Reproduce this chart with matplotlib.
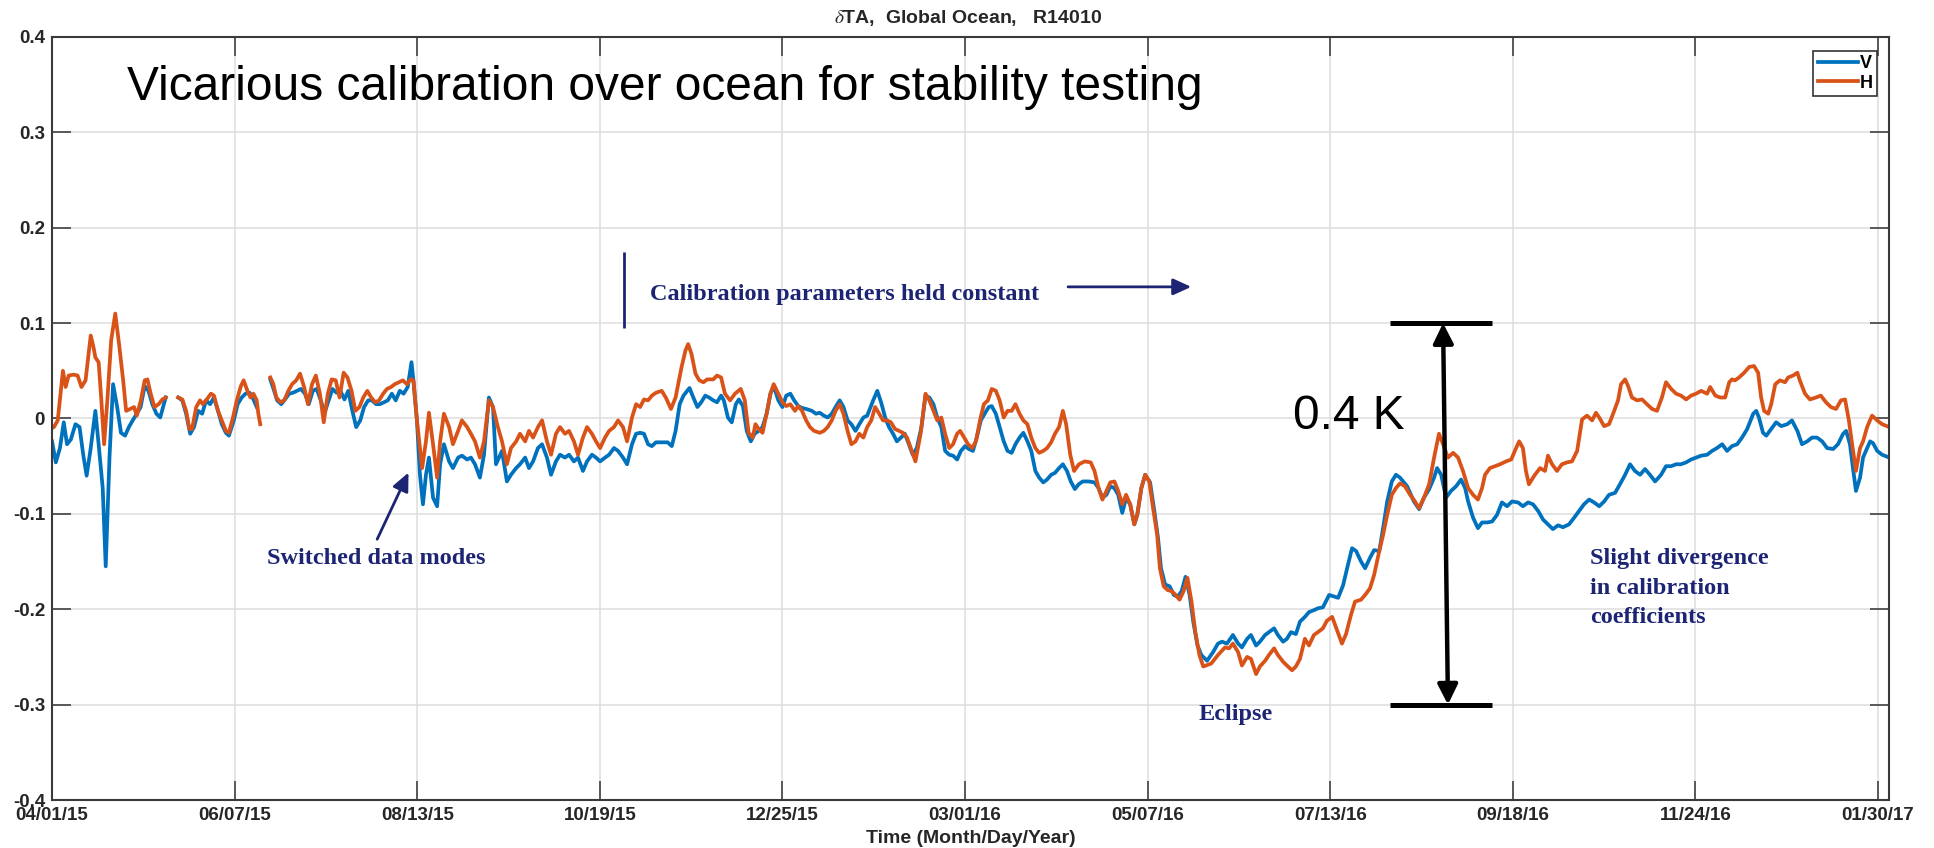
import numpy as np
import matplotlib.pyplot as plt
import matplotlib.dates as mdates
from datetime import datetime

plt.rcParams['font.family'] = ['Liberation Sans', 'DejaVu Sans']
plt.rcParams['mathtext.fontset'] = 'stix'

START = datetime(2015, 4, 1)
TICK_STEP = 67      # days between date ticks
N_TICKS = 11
X_END = 674         # last day shown after START

# days since 04/01/15 and delta TA (K); nan marks a data gap
v_days = [
    0.0, 1.4, 2.9, 4.3, 5.5, 6.9, 8.6, 10.1, 11.5, 12.7,
    14.2, 15.9, 17.1, 18.6, 19.7, 21.1, 22.4, 23.9, 25.3, 26.8,
    28.2, 29.6, 31.1, 32.5, 34.0, 35.4, 36.8, 38.3, 39.7, 41.7,
    44.0,
    46.3, 47.8, 49.2, 50.7, 52.1, 53.6, 55.1, 56.5, 58.0, 59.4,
    60.9, 62.3, 63.8, 64.9, 66.7, 68.1, 69.6, 71.0, 72.5, 73.9, 75.1,
    78.0,
    80.1, 81.5, 82.6, 84.1, 85.5, 87.0, 88.4, 89.9, 91.3, 92.8,
    94.2, 95.7, 97.1, 98.6, 100.0, 101.5, 102.9, 104.4, 105.8, 107.3,
    108.7, 110.2, 111.6, 113.1, 114.5, 116.0, 117.4, 118.9, 120.3, 121.8,
    123.2, 124.7, 126.1, 127.6, 129.0, 130.5, 131.9, 132.6,
    133.9, 135.0, 136.1, 137.2, 138.3, 139.8, 141.3, 142.4, 143.8, 145.7,
    147.1, 149.0, 150.4, 152.3, 153.7, 155.2, 157.0, 158.5, 160.3, 161.8,
    162.9, 165.1, 166.9, 168.4, 170.3, 171.7, 173.6, 175.0, 176.5, 178.3,
    179.8, 181.6, 183.1, 184.9, 186.4, 188.2, 189.7, 191.5, 193.0, 194.8,
    196.3, 198.1, 199.6, 201.1, 202.9, 204.4, 206.2, 207.7, 209.5, 211.0,
    212.8, 214.3,
    215.8, 217.2, 218.7, 220.1, 221.6, 223.7, 225.9, 227.4, 228.8, 230.3,
    231.7, 233.9, 235.3, 236.8, 238.2, 239.7, 241.1, 242.6, 244.0, 245.5,
    246.5, 248.0, 249.4, 250.9, 252.0, 253.5, 254.9, 256.4, 257.8, 259.3,
    260.7, 262.2, 263.6, 264.8, 266.5, 268.0, 269.4, 270.9, 272.3, 273.8,
    275.2, 276.7, 278.8, 280.3, 281.7, 283.2, 284.6, 286.1, 287.5, 289.0,
    290.4, 291.9, 293.3, 294.8, 296.2, 297.7, 299.1, 301.3, 302.8, 304.2,
    305.7, 307.1, 308.6, 310.0, 311.5, 312.9, 314.4, 315.8, 317.3, 319.0,
    320.5, 321.9, 323.4, 324.8, 326.3, 327.7, 329.2, 330.6, 332.1, 333.5,
    335.0, 336.4, 337.9, 339.3, 340.8, 342.2, 343.7, 344.8, 346.3, 347.7,
    349.2, 350.6, 352.1, 353.5, 355.0, 356.4, 357.9, 359.3, 360.8, 362.2,
    363.7, 365.1, 366.6, 368.0, 369.5, 370.9, 372.4, 373.8, 375.3, 376.7,
    378.2, 380.4, 382.5, 384.0, 385.4, 386.9, 388.3, 389.8, 391.2, 392.7,
    394.1, 395.6, 397.1, 398.2, 399.7, 401.1, 402.9, 404.3, 405.8, 406.9,
    408.4, 410.1, 411.6, 413.0, 414.5, 415.9, 417.4, 418.8, 420.3, 421.7,
    423.8, 426.0, 427.8, 429.3, 431.1, 433.3, 435.2, 436.6, 438.5, 439.9,
    441.8, 443.2, 445.1, 446.5, 448.4, 449.8, 451.7, 453.1, 454.6, 456.4,
    457.9, 459.7, 461.2, 463.0, 464.5, 466.3, 468.6, 471.9, 473.7, 475.2,
    477.0, 478.5, 480.3, 481.8, 483.6, 485.1, 487.0, 488.4, 489.9, 491.6,
    493.1, 494.6,
    497.2, 499.7, 501.6, 503.4, 505.3, 507.1, 508.2, 509.7, 511.5, 513.3,
    515.2, 517.0, 518.5, 519.6, 521.4, 523.2, 524.7, 526.6, 528.4, 530.2,
    532.0, 533.9, 535.7, 537.9, 539.7, 541.6, 543.4, 545.3, 547.1, 548.9,
    550.7, 552.6, 554.4, 556.6, 558.5, 560.3, 562.1, 564.0, 565.8, 567.7,
    569.5, 571.3, 573.5, 575.3, 577.2, 579.0, 580.8, 582.7, 584.5, 586.3,
    588.2, 590.4, 592.2, 594.1, 595.9, 597.7, 599.6, 601.4, 603.2, 605.1,
    607.3, 609.1, 610.9, 612.8, 614.6, 616.4, 618.3, 620.1, 622.0, 624.2,
    625.3, 626.3, 627.8, 629.0, 630.8, 632.6, 634.5, 636.7, 638.4, 640.4,
    642.1, 644.0, 645.8, 647.6, 649.5, 651.3, 653.5, 655.3, 657.2, 658.3,
    659.7, 660.8, 661.9, 663.4, 664.5, 666.0, 667.1, 668.2, 669.7, 671.5,
    674.1,
]
v_vals = [
    -0.024, -0.046, -0.031, -0.004, -0.027, -0.022, -0.006, -0.009, -0.039, -0.060,
    -0.031, 0.008, -0.027, -0.073, -0.155, -0.040, 0.036, 0.012, -0.015, -0.018,
    -0.009, -0.002, 0.005, 0.012, 0.034, 0.029, 0.015, 0.005, 0.001, 0.022,
    np.nan,
    0.022, 0.019, 0.005, -0.016, -0.009, 0.008, 0.005, 0.019, 0.015, 0.022,
    0.008, -0.006, -0.015, -0.018, -0.002, 0.015, 0.022, 0.026, 0.027, 0.020, 0.012,
    np.nan,
    0.041, 0.029, 0.019, 0.015, 0.020, 0.026, 0.027, 0.029, 0.031, 0.026,
    0.015, 0.029, 0.031, 0.019, 0.006, 0.019, 0.031, 0.027, 0.029, 0.020,
    0.029, 0.008, -0.009, -0.002, 0.012, 0.019, 0.019, 0.015, 0.015, 0.017,
    0.019, 0.026, 0.019, 0.029, 0.026, 0.033, 0.059, 0.040,
    -0.002, -0.059, -0.090, -0.059, -0.041, -0.083, -0.092, -0.048, -0.027, -0.045,
    -0.052, -0.041, -0.039, -0.043, -0.041, -0.048, -0.062, -0.038, 0.022, 0.012,
    -0.048, -0.034, -0.066, -0.059, -0.052, -0.048, -0.041, -0.052, -0.045, -0.031,
    -0.027, -0.041, -0.059, -0.045, -0.038, -0.041, -0.038, -0.045, -0.041, -0.055,
    -0.045, -0.038, -0.041, -0.045, -0.041, -0.038, -0.031, -0.034, -0.041, -0.048,
    -0.027, -0.016,
    -0.015, -0.016, -0.027, -0.029, -0.025, -0.025, -0.025, -0.029, -0.013, 0.015,
    0.024, 0.032, 0.022, 0.012, 0.017, 0.024, 0.022, 0.019, 0.017, 0.024,
    0.019, 0.001, -0.004, 0.015, 0.020, 0.013, -0.013, -0.024, -0.016, -0.013,
    -0.009, 0.005, 0.026, 0.034, 0.019, 0.012, 0.024, 0.026, 0.019, 0.013,
    0.011, 0.010, 0.008, 0.005, 0.006, 0.003, 0.001, 0.005, 0.012, 0.019,
    0.012, -0.002, -0.006, -0.013, -0.006, 0.001, 0.003, 0.019, 0.029, 0.017,
    0.001, -0.009, -0.016, -0.024, -0.020, -0.016, -0.027, -0.038, -0.031, -0.009,
    0.024, 0.022, 0.015, 0.001, -0.009, -0.034, -0.038, -0.039, -0.043, -0.034,
    -0.029, -0.032, -0.034, -0.020, -0.002, 0.005, 0.012, 0.013, 0.005, -0.009,
    -0.024, -0.034, -0.036, -0.027, -0.020, -0.015, -0.024, -0.034, -0.055, -0.062,
    -0.067, -0.064, -0.059, -0.057, -0.052, -0.048, -0.055, -0.066, -0.074, -0.069,
    -0.066, -0.066, -0.067, -0.073, -0.083, -0.080, -0.071, -0.073, -0.080, -0.099,
    -0.083, -0.090, -0.111, -0.101, -0.073, -0.059, -0.067, -0.094, -0.125, -0.157,
    -0.174, -0.176, -0.185, -0.187, -0.181, -0.166, -0.185, -0.214, -0.238, -0.248,
    -0.254, -0.245, -0.236, -0.234, -0.236, -0.227, -0.236, -0.240, -0.231, -0.227,
    -0.238, -0.234, -0.227, -0.224, -0.220, -0.227, -0.234, -0.231, -0.224, -0.226,
    -0.213, -0.208, -0.203, -0.201, -0.199, -0.198, -0.185, -0.188, -0.175, -0.157,
    -0.136, -0.139, -0.150, -0.157, -0.146, -0.138, -0.139, -0.115, -0.087, -0.066,
    -0.059, -0.062,
    -0.071, -0.087, -0.095, -0.083, -0.074, -0.062, -0.052, -0.059, -0.083, -0.076,
    -0.071, -0.064, -0.073, -0.087, -0.104, -0.115, -0.109, -0.109, -0.108, -0.101,
    -0.088, -0.092, -0.087, -0.088, -0.092, -0.088, -0.090, -0.097, -0.106, -0.111,
    -0.116, -0.112, -0.114, -0.111, -0.104, -0.097, -0.090, -0.085, -0.088, -0.092,
    -0.087, -0.080, -0.078, -0.069, -0.059, -0.048, -0.055, -0.059, -0.053, -0.059,
    -0.066, -0.059, -0.050, -0.050, -0.048, -0.048, -0.046, -0.043, -0.041, -0.039,
    -0.038, -0.034, -0.031, -0.027, -0.034, -0.029, -0.027, -0.020, -0.011, 0.005,
    0.008, 0.001, -0.015, -0.018, -0.011, -0.004, -0.008, -0.006, -0.002, -0.013,
    -0.027, -0.024, -0.020, -0.020, -0.024, -0.031, -0.032, -0.027, -0.016, -0.013,
    -0.027, -0.052, -0.076, -0.062, -0.041, -0.031, -0.024, -0.026, -0.034, -0.038,
    -0.041,
]

h_days = [
    0.0, 0.7, 2.1, 4.0, 5.0, 6.1, 7.9, 9.4, 10.8, 12.3,
    14.2, 15.2, 15.9, 17.1, 18.1, 19.1, 20.3, 21.7, 23.2, 24.6,
    26.1, 27.2, 28.7, 30.1, 31.1, 32.6, 34.0, 35.0, 36.2, 37.6,
    39.1, 40.5, 41.7,
    44.0,
    46.3, 47.8, 49.2, 50.4, 51.4, 52.9, 54.3, 55.3, 56.8, 58.3,
    59.4, 60.9, 62.3, 63.8, 64.9, 66.4, 67.8, 69.3, 70.3, 71.7,
    72.8, 73.9, 75.1, 75.7, 76.4,
    78.0,
    80.1, 81.2, 82.3, 83.8, 85.2, 86.7, 88.1, 89.6, 91.0, 92.5,
    93.9, 95.4, 96.8, 98.3, 99.7, 101.2, 102.6, 104.1, 105.5, 107.0,
    108.4, 109.9, 111.3, 112.8, 114.2, 115.7, 117.1, 118.6, 120.0, 121.5,
    122.9, 124.4, 125.8, 127.3, 128.7, 130.2, 131.6, 132.6,
    133.9, 135.8, 137.2, 138.3, 139.8, 141.3, 142.4, 143.8, 145.7, 147.1,
    149.0, 150.4, 152.3, 153.7, 155.2, 157.0, 158.5, 160.3, 161.8, 163.6,
    165.1, 166.9, 168.4, 170.3, 171.7, 173.6, 175.0, 176.5, 178.3, 179.8,
    181.6, 183.1, 184.9, 186.4, 188.2, 189.7, 191.5, 193.0, 194.8, 196.3,
    198.1, 199.6, 201.1, 202.9, 204.4, 206.2, 207.7, 209.5, 211.0, 212.8,
    214.3,
    215.8, 217.2, 218.7, 220.1, 221.6, 223.7, 225.2, 227.1, 228.8, 231.0,
    232.4, 233.4, 234.6, 236.1, 237.5, 239.0, 240.4, 242.6, 244.0, 245.5,
    246.9, 248.8, 250.6, 252.7, 254.2, 255.6, 257.1, 258.1, 259.3, 260.7,
    262.2, 263.6, 264.8, 266.5, 268.0, 269.4, 270.9, 272.6, 273.8, 275.2,
    276.7, 278.1, 279.6, 281.7, 283.2, 284.6, 286.1, 287.5, 289.0, 290.4,
    291.9, 293.3, 294.8, 296.2, 297.7, 299.1, 300.6, 302.0, 303.5, 304.9,
    306.4, 307.8, 309.3, 310.8, 312.2, 313.7, 315.1, 316.8, 318.7, 320.5,
    321.9, 323.4, 324.8, 326.3, 327.7, 329.2, 330.6, 332.1, 333.2, 334.7,
    336.1, 337.6, 339.0, 340.5, 341.9, 343.4, 344.8, 346.3, 347.7, 349.2,
    350.6, 352.1, 353.5, 355.0, 356.4, 357.9, 359.3, 360.8, 362.2, 363.7,
    365.1, 366.6, 368.0, 369.5, 370.9, 372.1, 373.6, 375.0, 376.8, 378.9,
    381.1, 382.5, 384.0, 385.4, 386.9, 388.3, 389.8, 391.2, 392.7, 394.1,
    395.6, 397.1, 398.2, 399.7, 401.1, 402.6, 404.0, 405.5, 406.5, 407.9,
    409.4, 410.8, 412.3, 413.7, 415.2, 416.6, 418.1, 419.5, 421.0, 422.4,
    425.3, 427.8, 430.4, 431.9, 433.3, 435.2, 436.6, 438.5, 439.9, 441.8,
    443.2, 445.1, 446.5, 448.4, 449.8, 451.7, 453.1, 455.0, 456.4, 457.9,
    459.7, 461.2, 463.0, 464.5, 466.3, 467.8, 469.7, 471.1, 473.3, 474.8,
    476.6, 478.1, 480.3, 481.8, 483.6, 485.1, 487.0, 488.4, 489.9, 491.6,
    493.1, 494.6,
    496.4, 498.3, 500.1, 501.6, 503.4, 505.3, 507.1, 508.9, 510.4, 512.2,
    514.1, 515.9, 517.7, 519.6, 521.4, 523.2, 524.7, 525.8, 527.6, 529.5,
    531.3, 533.5, 535.4, 537.2, 538.3, 539.7, 540.8, 541.9, 544.1, 546.0,
    547.8, 548.9, 550.4, 552.2, 554.0, 555.9, 557.7, 559.6, 561.4, 563.2,
    565.1, 566.5, 567.7, 569.5, 571.3, 572.8, 574.6, 575.7, 577.2, 578.3,
    579.7, 581.6, 583.4, 585.2, 587.1, 588.9, 590.7, 592.2, 594.1, 595.9,
    597.7, 599.6, 601.4, 603.2, 605.1, 607.3, 608.4, 610.3, 612.1, 613.9,
    615.4, 616.4, 617.5, 619.0, 620.9, 622.7, 624.5, 626.0, 627.1, 628.2,
    629.7, 630.8, 632.3, 634.0, 635.9, 637.0, 638.8, 640.4, 641.3, 643.2,
    645.0, 647.2, 649.0, 650.9, 652.7, 654.6, 656.4, 657.9, 659.3, 660.5,
    661.9, 663.4, 664.5, 666.0, 667.8, 669.7, 671.5, 674.1,
]
h_vals = [
    -0.010, -0.009, -0.002, 0.050, 0.033, 0.045, 0.046, 0.045, 0.033, 0.040,
    0.087, 0.075, 0.064, 0.059, 0.019, -0.027, 0.019, 0.082, 0.110, 0.078,
    0.040, 0.008, 0.010, 0.012, 0.003, 0.019, 0.040, 0.041, 0.026, 0.012,
    0.015, 0.020, 0.022,
    np.nan,
    0.022, 0.020, 0.008, -0.011, -0.011, 0.012, 0.019, 0.015, 0.020, 0.026,
    0.024, 0.008, -0.002, -0.013, -0.015, 0.001, 0.019, 0.034, 0.040, 0.029,
    0.022, 0.026, 0.019, 0.005, -0.006,
    np.nan,
    0.043, 0.036, 0.022, 0.017, 0.019, 0.029, 0.036, 0.040, 0.047, 0.033,
    0.015, 0.036, 0.045, 0.026, -0.004, 0.026, 0.041, 0.040, 0.022, 0.048,
    0.043, 0.029, 0.008, 0.012, 0.022, 0.029, 0.022, 0.017, 0.019, 0.026,
    0.031, 0.033, 0.036, 0.038, 0.040, 0.036, 0.041, 0.040,
    -0.002, -0.052, -0.024, 0.006, -0.027, -0.062, -0.024, 0.005, -0.009, -0.027,
    -0.013, -0.002, -0.009, -0.016, -0.024, -0.041, -0.024, 0.019, 0.012, -0.009,
    -0.024, -0.048, -0.031, -0.024, -0.016, -0.024, -0.013, -0.020, -0.009, -0.002,
    -0.024, -0.038, -0.016, -0.009, -0.016, -0.013, -0.024, -0.038, -0.020, -0.009,
    -0.016, -0.024, -0.031, -0.020, -0.013, -0.009, -0.002, -0.009, -0.024, 0.001,
    0.015,
    0.012, 0.020, 0.019, 0.024, 0.027, 0.029, 0.022, 0.010, 0.022, 0.054,
    0.071, 0.078, 0.068, 0.047, 0.040, 0.038, 0.041, 0.041, 0.045, 0.043,
    0.026, 0.019, 0.026, 0.031, 0.019, -0.015, -0.020, -0.006, -0.011, -0.015,
    0.005, 0.026, 0.036, 0.026, 0.017, 0.013, 0.015, 0.008, 0.013, 0.008,
    -0.002, -0.009, -0.013, -0.015, -0.013, -0.009, -0.002, 0.008, 0.015, 0.005,
    -0.013, -0.027, -0.024, -0.016, -0.020, -0.009, -0.002, 0.012, 0.005, -0.002,
    -0.002, -0.004, -0.011, -0.013, -0.015, -0.020, -0.031, -0.045, -0.016, 0.026,
    0.019, 0.008, -0.002, 0.001, -0.016, -0.031, -0.027, -0.016, -0.013, -0.020,
    -0.027, -0.031, -0.024, -0.002, 0.015, 0.019, 0.031, 0.029, 0.019, 0.001,
    0.008, 0.008, 0.015, 0.005, -0.002, -0.006, -0.020, -0.031, -0.036, -0.034,
    -0.031, -0.025, -0.016, -0.009, 0.008, -0.006, -0.038, -0.055, -0.048, -0.045,
    -0.046, -0.055, -0.073, -0.085, -0.076, -0.067, -0.066, -0.076, -0.090, -0.080,
    -0.090, -0.111, -0.101, -0.073, -0.059, -0.066, -0.094, -0.122, -0.157, -0.176,
    -0.180, -0.181, -0.185, -0.190, -0.181, -0.167, -0.192, -0.224, -0.248, -0.260,
    -0.257, -0.248, -0.240, -0.241, -0.236, -0.245, -0.259, -0.250, -0.252, -0.268,
    -0.260, -0.254, -0.248, -0.241, -0.248, -0.255, -0.259, -0.264, -0.260, -0.252,
    -0.231, -0.238, -0.227, -0.224, -0.220, -0.212, -0.208, -0.219, -0.236, -0.226,
    -0.206, -0.192, -0.190, -0.185, -0.178, -0.164, -0.139, -0.122, -0.101, -0.080,
    -0.073, -0.068,
    -0.071, -0.080, -0.087, -0.094, -0.083, -0.069, -0.041, -0.016, -0.027, -0.041,
    -0.036, -0.041, -0.055, -0.073, -0.080, -0.085, -0.073, -0.059, -0.052, -0.050,
    -0.048, -0.045, -0.043, -0.031, -0.024, -0.031, -0.055, -0.069, -0.059, -0.052,
    -0.055, -0.039, -0.048, -0.055, -0.048, -0.046, -0.045, -0.034, -0.001, 0.003,
    -0.002, 0.006, 0.001, -0.008, -0.006, 0.005, 0.019, 0.036, 0.041, 0.034,
    0.022, 0.019, 0.020, 0.015, 0.010, 0.008, 0.022, 0.038, 0.031, 0.026,
    0.024, 0.020, 0.024, 0.026, 0.029, 0.026, 0.033, 0.024, 0.022, 0.022,
    0.038, 0.041, 0.040, 0.043, 0.048, 0.054, 0.055, 0.048, 0.022, 0.008,
    0.005, 0.015, 0.036, 0.040, 0.038, 0.043, 0.045, 0.048, 0.040, 0.026,
    0.020, 0.022, 0.024, 0.017, 0.012, 0.010, 0.019, 0.020, -0.002, -0.027,
    -0.055, -0.031, -0.024, -0.009, 0.003, -0.002, -0.006, -0.009,
]

# stability span marked on the right half
span_top = 0.1
span_bottom = -0.3

BLUE = '#0072BD'
ORANGE = '#D95319'
NAVY = '#1c2473'
INK = '#262626'


def day_num(days):
    return mdates.date2num(START) + np.asarray(days, dtype=float)


fig = plt.figure(figsize=(19.34, 8.48), dpi=100)
ax = fig.add_axes([0.0269, 0.0566, 0.9498, 0.8998])

ax.plot(day_num(v_days), v_vals, color=BLUE, lw=2.7, label='V')
ax.plot(day_num(h_days), h_vals, color=ORANGE, lw=2.7, label='H')

ax.set_xlim(day_num(0), day_num(X_END))
ax.set_ylim(-0.4, 0.4)
ax.set_xticks(day_num(np.arange(N_TICKS) * TICK_STEP))
ax.xaxis.set_major_formatter(mdates.DateFormatter('%m/%d/%y'))
ax.set_yticks(np.round(np.arange(-0.4, 0.41, 0.1), 1))
ax.yaxis.set_major_formatter(
    plt.FuncFormatter(lambda v, _: '0' if abs(v) < 1e-9 else f'{v:g}'))

ax.tick_params(direction='in', length=14, width=1.1, top=True, right=True,
               labelsize=13.5, pad=5, color='#333333', labelcolor=INK)
for lbl in ax.get_xticklabels() + ax.get_yticklabels():
    lbl.set_fontweight('bold')
ax.grid(True, color='#dedede', lw=1.1)
ax.set_axisbelow(True)
for s in ax.spines.values():
    s.set_linewidth(1.5)
    s.set_color('#3a3a3a')

leg = ax.legend(loc='upper right', bbox_to_anchor=(0.9935, 0.9817), borderaxespad=0,
                fancybox=False, edgecolor='#333333', framealpha=1,
                prop={'weight': 'bold', 'size': 13}, handlelength=2.2,
                handletextpad=0.1, borderpad=0.25, labelspacing=0.12)
leg.get_frame().set_linewidth(1.2)

fig.text(0.5005, 0.979, r'$\delta$TA,  Global Ocean,   R14010', ha='center', va='center',
         fontsize=14, fontweight='bold', color=INK)
ax.set_xlabel('Time (Month/Day/Year)', fontsize=14, fontweight='bold', color=INK, labelpad=4)

fig.text(0.0657, 0.8821, 'Vicarious calibration over ocean for stability testing',
         fontsize=34.5, va='baseline', color='black')

# navy notes
serif = dict(family='Liberation Serif', fontweight='bold', fontsize=17.5, color=NAVY)
navy_arrow = dict(arrowstyle='-|>,head_length=0.55,head_width=0.25', mutation_scale=20,
                  lw=2, color=NAVY, shrinkA=0, shrinkB=0)
ax.vlines(day_num(209.9), 0.095, 0.175, color=NAVY, lw=2)
ax.text(day_num(219.4), 0.1246, 'Calibration parameters held constant', va='baseline', **serif)
ax.annotate('', xy=(day_num(418), 0.138), xytext=(day_num(372.8), 0.138), arrowprops=navy_arrow)
ax.text(day_num(78.9), -0.1525, 'Switched data modes', va='baseline', **serif)
ax.annotate('', xy=(day_num(130.8), -0.0567), xytext=(day_num(119.3), -0.1266),
            arrowprops=navy_arrow)
ax.text(day_num(420.5), -0.316, 'Eclipse', va='baseline', **serif)
for i, line in enumerate(['Slight divergence', 'in calibration', 'coefficients']):
    ax.text(day_num(564.2), -0.153 - i * 0.0305, line, va='baseline', **serif)

# 0.4 K span marker
ax.hlines([span_top, span_bottom], day_num(490.9), day_num(528.4), color='black', lw=3.6)
ax.annotate('', xy=(day_num(510.4), span_top), xytext=(day_num(512.2), span_bottom),
            arrowprops=dict(arrowstyle='<|-|>,head_length=0.6,head_width=0.3',
                            mutation_scale=20, lw=3.2, color='black', shrinkA=0, shrinkB=0))
ax.text(day_num(455.4), -0.011, f'{span_top - span_bottom:.1f} K', fontsize=34.5,
        va='baseline', color='black')

fig.savefig('out.png', dpi=100)
